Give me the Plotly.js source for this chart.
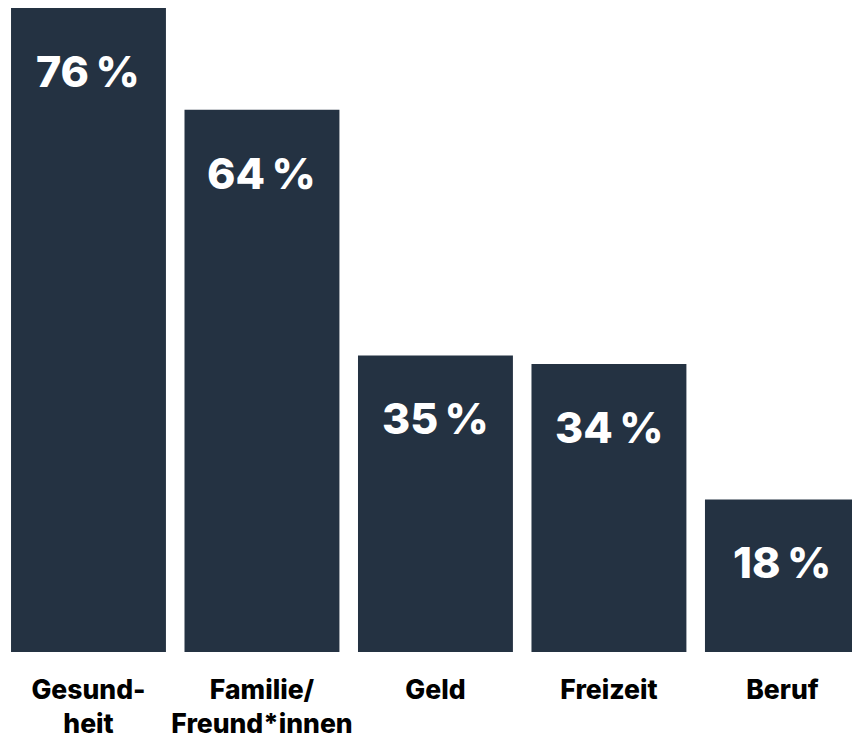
<!DOCTYPE html>
<html><head><meta charset="utf-8">
<script src="https://cdn.plot.ly/plotly-3.0.1.min.js"></script>
<style>html,body{margin:0;padding:0;overflow:hidden;background:#fff}</style>
</head><body>
<div id="chart" style="width:852px;height:742px"></div>
<script>
const categories = ["Gesundheit", "Familie/Freund*innen", "Geld", "Freizeit", "Beruf"];
const tickLabels = ["Gesund-<br>heit", "Familie/<br>Freund*innen", "Geld", "Freizeit", "Beruf"];
const values = [76, 64, 35, 34, 18];
const valueLabels = values.map(v => v + "\u2009%");

const FONT = "Inter, Lato, 'DejaVu Sans', sans-serif";
const xIdx = categories.map((c, i) => i);

const trace = {
  type: "bar",
  x: xIdx,
  y: values,
  marker: {color: "#243242"},
  hoverinfo: "none",
  showlegend: false
};

const annotations = values.map((v, i) => ({
  x: i, y: v, xref: "x", yref: "y",
  text: valueLabels[i],
  showarrow: false, yanchor: "middle", xanchor: "center", yshift: -63,
  font: {family: FONT, size: 43, color: "#ffffff", weight: 800}
}));

const layout = {
  width: 852, height: 742,
  margin: {l: 0, r: 0, t: 8, b: 90},
  paper_bgcolor: "#ffffff", plot_bgcolor: "#ffffff",
  bargap: 0.107,
  xaxis: {
    range: [-0.51, 4.401],
    tickmode: "array", tickvals: xIdx, ticktext: tickLabels,
    showgrid: false, zeroline: false, showline: false, ticks: "",
    ticklabelstandoff: 19,
    tickfont: {family: FONT, size: 26.5, color: "#000000", weight: 800},
    fixedrange: true
  },
  yaxis: {range: [0, 76], visible: false, fixedrange: true},
  annotations: annotations
};

Plotly.newPlot("chart", [trace], layout, {displayModeBar: false, staticPlot: true});
</script>
</body></html>
